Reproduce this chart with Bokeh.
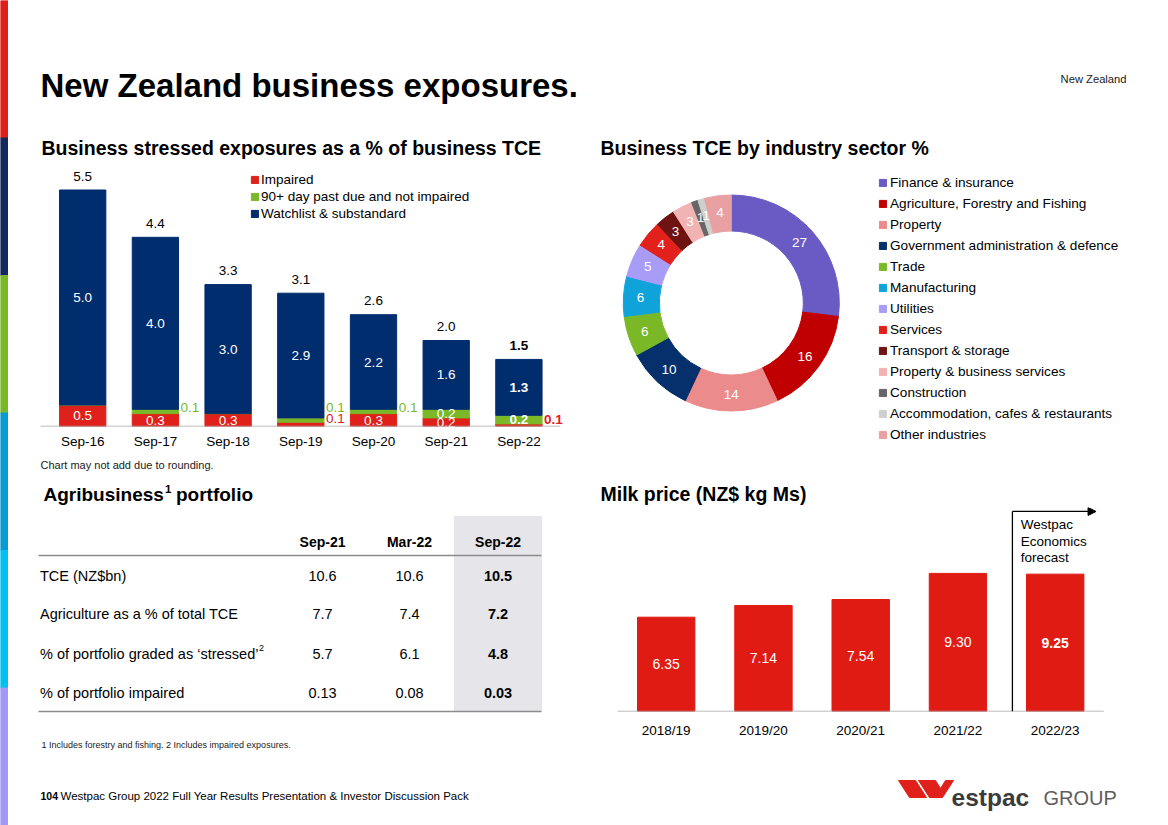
from bokeh.plotting import figure
from bokeh.layouts import row, column
from bokeh.models import Range1d, ColumnDataSource, Arrow, NormalHead, FixedTicker
from bokeh.embed import file_html
from bokeh.resources import INLINE
from bokeh.core.properties import value
import math

FONT = "Liberation Sans"

# ---------------- data ----------------
periods = ["Sep-16", "Sep-17", "Sep-18", "Sep-19", "Sep-20", "Sep-21", "Sep-22"]
impaired = [0.5, 0.3, 0.3, 0.1, 0.3, 0.2, 0.06]
past_due_90 = [0.0, 0.1, 0.0, 0.1, 0.1, 0.2, 0.2]
watchlist = [5.0, 4.0, 3.0, 2.9, 2.2, 1.6, 1.3]
totals = [5.5, 4.4, 3.3, 3.1, 2.6, 2.0, 1.5]
stress_series = ["Impaired", "90+ day past due and not impaired", "Watchlist & substandard"]

sectors = ["Finance & insurance", "Agriculture, Forestry and Fishing", "Property",
           "Government administration & defence", "Trade", "Manufacturing", "Utilities",
           "Services", "Transport & storage", "Property & business services", "Construction",
           "Accommodation, cafes & restaurants", "Other industries"]
sector_pct = [27, 16, 14, 10, 6, 6, 5, 4, 3, 3, 1, 1, 4]
sector_colors = ["#6a5bc4", "#c00000", "#ec8b8b", "#05306b", "#7ab828", "#0fa3da", "#a99cf6",
                 "#e3211c", "#6e1212", "#f2b3b3", "#666666", "#cfcfcf", "#e9a0a2"]

table_cols = ["Sep-21", "Mar-22", "Sep-22"]
table_rows = ["TCE (NZ$bn)", "Agriculture as a % of total TCE",
              "% of portfolio graded as \u2018stressed\u2019", "% of portfolio impaired"]
table_sep21 = ["10.6", "7.7", "5.7", "0.13"]
table_mar22 = ["10.6", "7.4", "6.1", "0.08"]
table_sep22 = ["10.5", "7.2", "4.8", "0.03"]

milk_years = ["2018/19", "2019/20", "2020/21", "2021/22", "2022/23"]
milk_price = [6.35, 7.14, 7.54, 9.30, 9.25]

# ---------------- styles ----------------
RED = "#e0201a"
GREEN = "#7ab828"
NAVY = "#002d6e"
MILK_RED = "#df1b13"
strip_colors = ["#e01f1a", "#14285f", "#79b928", "#0a9ad4", "#00c0ef", "#a398f5"]


def base_fig(w, h, xr, yr, **kw):
    p = figure(width=w, height=h, x_range=xr, y_range=yr, output_backend="svg",
               toolbar_location=None, tools="", min_border_left=0, min_border_right=0, **kw)
    p.outline_line_color = None
    p.grid.visible = False
    p.background_fill_color = "white"
    p.border_fill_color = "white"
    return p


def canvas(x0, x1, y0, y1):
    return base_fig(x1 - x0, y1 - y0, Range1d(x0, x1), Range1d(y1, y0),
                    x_axis_location=None, y_axis_location=None,
                    min_border_top=0, min_border_bottom=0)


def txt(p, x, y, s, size, color="#000000", bold=False, align="left", baseline="middle"):
    p.text(x=[x], y=[y], text=[s], text_font=value(FONT), text_font_size=value(f"{size}px"),
           text_font_style=value("bold" if bold else "normal"), text_color=color,
           text_align=align, text_baseline=baseline)


def style_xaxis(p, labels, ticks, standoff):
    ax = p.xaxis[0]
    ax.ticker = FixedTicker(ticks=ticks)
    ax.major_label_overrides = {t: s for t, s in zip(ticks, labels)}
    ax.axis_line_color = None
    ax.major_tick_line_color = None
    ax.minor_tick_line_color = None
    ax.major_tick_out = 0
    ax.major_tick_in = 0
    ax.major_label_standoff = standoff
    ax.major_label_text_font = FONT
    ax.major_label_text_font_size = "13.5px"
    ax.major_label_text_color = "#000000"


# ---------------- left colour strip ----------------
strip = canvas(0, 8, 0, 825)
seg = 825 / len(strip_colors)
strip.quad(left=0, right=8, top=[i * seg for i in range(len(strip_colors))],
           bottom=[(i + 1) * seg for i in range(len(strip_colors))], color=strip_colors)

# ---------------- header ----------------
hdr = canvas(8, 1168, 0, 160)
txt(hdr, 40, 85, "New Zealand business exposures.", 33, bold=True, baseline="alphabetic")
txt(hdr, 1126, 78, "New Zealand", 11.2, color="#1a1a1a", align="right")
txt(hdr, 41, 147, "Business stressed exposures as a % of business TCE", 19.5, bold=True)
txt(hdr, 600, 147, "Business TCE by industry sector %", 19.5, bold=True)

# ---------------- stacked bar chart ----------------
BW = 0.637
PX_CAT = 72.7          # px per category
FIRST_C = 82.2         # page x of first bar centre
BAR_X0, BAR_X1 = 8, 580
BAR_H, BB = 292, 26
PX_UNIT = 43.0
bx = list(range(1, len(periods) + 1))
bp = base_fig(BAR_X1 - BAR_X0, BAR_H,
              Range1d(1 - (FIRST_C - BAR_X0) / PX_CAT, 1 + (BAR_X1 - FIRST_C) / PX_CAT),
              Range1d(0, (BAR_H - BB) / PX_UNIT), y_axis_location=None,
              min_border_top=0, min_border_bottom=BB)
src = ColumnDataSource(dict(x=bx, imp=impaired, pd=past_due_90, wl=watchlist))
bp.vbar_stack(["imp", "pd", "wl"], x="x", width=BW, source=src,
              color=[RED, GREEN, NAVY], legend_label=stress_series)
bp.segment(x0=[0.42], x1=[len(periods) + 0.57], y0=[0], y1=[0], line_color="#a6a6a6", line_width=1.4)

lx, ly, lt, lc, ls, la, lxo, lyo = [], [], [], [], [], [], [], []


def add_lab(x, y, t, c, bold, align="center", xo=0, yo=0):
    lx.append(x); ly.append(y); lt.append(t); lc.append(c)
    ls.append("bold" if bold else "normal"); la.append(align); lxo.append(xo); lyo.append(yo)


for i, xv in enumerate(bx):
    last = i == len(periods) - 1
    imp, pdv, wl = impaired[i], past_due_90[i], watchlist[i]
    top = imp + pdv + wl
    side = xv + BW / 2
    add_lab(xv, top, f"{totals[i]:.1f}", "#000000", last, yo=-14)
    add_lab(xv, imp + pdv + wl / 2, f"{wl:.1f}", "#ffffff", last)
    red_out = False
    if imp > 0:
        if imp >= 0.15:
            add_lab(xv, imp / 2, f"{imp:.1f}", "#ffffff", last)
        else:
            red_out = True
            add_lab(side, imp / 2, f"{imp:.1f}", RED, last, align="left", xo=2, yo=-5.5)
    if pdv > 0:
        if pdv >= 0.15:
            add_lab(xv, imp + pdv / 2, f"{pdv:.1f}", "#ffffff", last)
        elif red_out:
            add_lab(side, imp / 2, f"{pdv:.1f}", GREEN, last, align="left", xo=2, yo=-16.5)
        else:
            add_lab(side, imp + pdv / 2, f"{pdv:.1f}", GREEN, last, align="left", xo=2, yo=-4)

lab_src = ColumnDataSource(dict(x=lx, y=ly, t=lt, c=lc, s=ls, a=la, xo=lxo, yo=lyo))
bp.text(x="x", y="y", text="t", text_color="c", text_font_style="s", text_align="a",
        x_offset="xo", y_offset="yo", text_baseline="middle", source=lab_src,
        text_font=value(FONT), text_font_size=value("13.5px"))
style_xaxis(bp, periods, bx, 7)

lg = bp.legend[0]
lg.location = (242, 205)
lg.glyph_width = 9
lg.glyph_height = 9
lg.label_standoff = 2
lg.label_height = 15
lg.spacing = 2
lg.padding = 0
lg.margin = 0
lg.border_line_color = None
lg.background_fill_alpha = 0
lg.label_text_font = FONT
lg.label_text_font_size = "13.5px"
lg.label_text_color = "#000000"

# ---------------- table area ----------------
tb = canvas(8, 580, 452, 770)
txt(tb, 40, 464, "Chart may not add due to rounding.", 11, color="#1a1a1a")
txt(tb, 43, 494, "Agribusiness", 19, bold=True)
txt(tb, 164.5, 488, "1", 11.5, bold=True)
txt(tb, 175.5, 494, "portfolio", 19, bold=True)
tb.quad(left=454, right=541, top=516, bottom=711, color="#e6e5ea")
col_x = [322, 409, 497.5]
for cx, name in zip(col_x, table_cols):
    txt(tb, cx, 541, name, 14, bold=True, align="center")
tb.segment(x0=[38, 38], x1=[541, 541], y0=[555, 711], y1=[555, 711], line_color="#8c8c8c", line_width=1.6)
row_y = [575, 613.3, 653.3, 692.7]
for ry, lab, a, b, c in zip(row_y, table_rows, table_sep21, table_mar22, table_sep22):
    txt(tb, 39.5, ry, lab, 14.5, color="#000000")
    txt(tb, col_x[0], ry, a, 14.5, align="center")
    txt(tb, col_x[1], ry, b, 14.5, align="center")
    txt(tb, col_x[2], ry, c, 14.5, bold=True, align="center")
txt(tb, 258.5, 647, "2", 9)
txt(tb, 41, 744, "1 Includes forestry and fishing. 2 Includes impaired exposures.", 9, color="#1a1a1a")

# ---------------- donut ----------------
CX, CY = 730.8, 302.5
RX0, RX1 = 580, 1168
dp = base_fig(RX1 - RX0, 310, Range1d(RX0 - CX, RX1 - CX), Range1d(CY - 470, CY - 160),
              x_axis_location=None, y_axis_location=None, min_border_top=0, min_border_bottom=0)
tot = sum(sector_pct)
starts, ends, mids = [], [], []
acc = 0
for v in sector_pct:
    a0 = math.pi / 2 - 2 * math.pi * acc / tot
    acc += v
    a1 = math.pi / 2 - 2 * math.pi * acc / tot
    starts.append(a0); ends.append(a1); mids.append((a0 + a1) / 2)
dsrc = ColumnDataSource(dict(sector=sectors, start=starts, end=ends, color=sector_colors,
                             lx=[91 * math.cos(m) for m in mids], ly=[91 * math.sin(m) for m in mids],
                             lab=[str(v) for v in sector_pct]))
dp.annular_wedge(x=0, y=0, inner_radius=72, outer_radius=108, start_angle="start", end_angle="end",
                 direction="clock", color="color", legend_field="sector", source=dsrc)
dp.text(x="lx", y="ly", text="lab", source=dsrc, text_color="#ffffff", text_align="center",
        text_baseline="middle", text_font=value(FONT), text_font_size=value("13.5px"))
dl = dp.legend[0]
dl.location = (298, 27)
dl.glyph_width = 9
dl.glyph_height = 9
dl.label_standoff = 3
dl.label_height = 17
dl.spacing = 4
dl.padding = 0
dl.margin = 0
dl.border_line_color = None
dl.background_fill_alpha = 0
dl.label_text_font = FONT
dl.label_text_font_size = "13.6px"
dl.label_text_color = "#000000"

# ---------------- milk price ----------------
mh = canvas(RX0, RX1, 470, 505)
txt(mh, 600, 493, "Milk price (NZ$ kg Ms)", 19.5, bold=True)

M_H, MT, MB = 265, 2, 59
M_UNIT = 14.85
M_CAT = 97.25
M_FIRST = 665.7
mx = list(range(1, len(milk_years) + 1))
mp = base_fig(RX1 - RX0, M_H,
              Range1d(1 - (M_FIRST - RX0) / M_CAT, 1 + (RX1 - M_FIRST) / M_CAT),
              Range1d(0, (M_H - MT - MB) / M_UNIT), y_axis_location=None,
              min_border_top=MT, min_border_bottom=MB)
msrc = ColumnDataSource(dict(x=mx, top=milk_price, mid=[v / 2 for v in milk_price],
                             lab=[f"{v:.2f}" for v in milk_price],
                             st=["normal"] * (len(milk_price) - 1) + ["bold"]))
mp.vbar(x="x", top="top", width=0.59, color=MILK_RED, source=msrc)
mp.segment(x0=[0.5], x1=[len(mx) + 0.5], y0=[0], y1=[0], line_color="#a6a6a6", line_width=1.5)
mp.text(x="x", y="mid", text="lab", text_font_style="st", source=msrc, text_color="#ffffff",
        text_align="center", text_baseline="middle", text_font=value(FONT),
        text_font_size=value("14px"))
boundary = len(mx) - 0.5 + 0.06
arrow_y = 13.47
mp.segment(x0=[boundary], y0=[0], x1=[boundary], y1=[arrow_y], line_color="#000000", line_width=1.3)
mp.add_layout(Arrow(end=NormalHead(size=8, fill_color="#000000", line_color="#000000"),
                    x_start=boundary, y_start=arrow_y, x_end=len(mx) + 0.42, y_end=arrow_y,
                    line_color="#000000", line_width=1.3))
mp.text(x=[boundary + 0.085] * 3, y=[arrow_y] * 3, text=["Westpac", "Economics", "forecast"],
        y_offset=[13, 30, 46], text_align="left", text_baseline="middle", text_color="#000000",
        text_font=value(FONT), text_font_size=value("13.5px"))
style_xaxis(mp, milk_years, mx, 11)

# ---------------- footer ----------------
ft = canvas(8, 1168, 770, 825)
txt(ft, 40, 795, "104", 10.5, bold=True)
txt(ft, 60, 795, "Westpac Group 2022 Full Year Results Presentation & Investor Discussion Pack", 11.5)
ft.patches(xs=[[898, 915, 926, 909], [918, 935, 940, 945, 953, 942, 929]],
           ys=[[780, 780, 797, 797], [780, 780, 788, 780, 780, 797, 797]], color="#e0201a")
txt(ft, 951, 797, "estpac", 24.5, color="#3b3b3b", bold=True, baseline="alphabetic")
txt(ft, 1043, 797, "GROUP", 20, color="#5e5e5e", baseline="alphabetic")

# ---------------- layout ----------------
left_col = column(bp, tb)
right_col = column(dp, mh, mp)
main = column(hdr, row(left_col, right_col), ft)
page = row(strip, main)

open("out.html", "w").write(file_html(page, INLINE))
